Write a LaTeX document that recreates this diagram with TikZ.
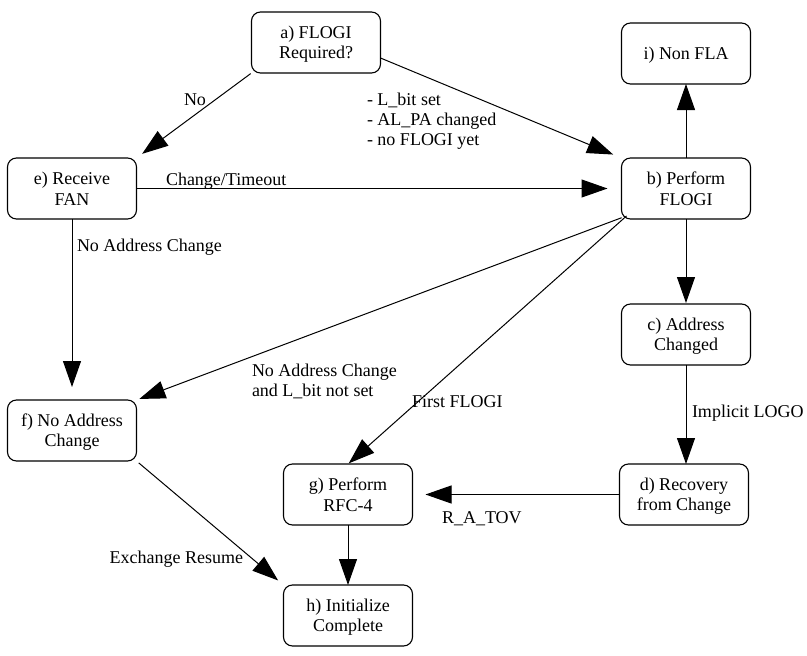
\documentclass[tikz,border=0pt]{standalone}
\usepackage{fontspec}
\setmainfont{Liberation Serif}
\usetikzlibrary{arrows.meta,calc}
\newcommand\sx{\rule[-3.5pt]{0pt}{19.5pt}}
\begin{document}
\begin{tikzpicture}[x=1pt,y=-1pt,
  state/.style={draw, line width=1.1pt, rounded corners=9pt, minimum width=129pt,
    minimum height=61pt, inner sep=0pt, outer sep=0pt, align=center,
    font=\fontsize{18}{20.5}\selectfont},
  lbl/.style={inner sep=0pt, outer sep=0pt, font=\fontsize{18}{20}\selectfont, align=left},
  arr/.style={draw, line width=1pt, -{Triangle[length=26pt,width=18pt]}}]
\useasboundingbox[fill=white] (0,0) rectangle (807,656);

\node[state] (a) at (316,42.5) {\sx a) FLOGI\\\sx Required?};
\node[state] (e) at (72,188.5) {\sx e) Receive\\\sx FAN};
\node[state] (i) at (686,53.5) {\sx i) Non FLA};
\node[state] (b) at (686,188.5) {\sx b) Perform\\\sx FLOGI};
\node[state] (c) at (686,334.5) {\sx c) Address\\\sx Changed};
\node[state] (d) at (684,494.5) {\sx d) Recovery\\\sx from Change};
\node[state] (f) at (72,430.5) {\sx f) No Address\\\sx Change};
\node[state] (g) at (348,494.5) {\sx g) Perform\\\sx RFC-4};
\node[state] (h) at (348,615.5) {\sx h) Initialize\\\sx Complete};

% connectors
\draw[arr, shorten <=1pt, shorten >=7pt] (a.south west) -- (e.north east);
\draw[arr, shorten >=9pt] ($(a.east)+(0,15.5)$) -- (b.north west);
\draw[arr, shorten >=14pt] (e.east) -- (b.west);
\draw[arr] (b.north) -- (i.south);
\draw[arr, shorten >=1pt] (b.south) -- (c.north);
\draw[arr, shorten >=13pt] (e.south) -- (f.north);
\draw[arr, shorten <=2pt, shorten >=3pt] ($(b.south west)+(2,-2)$) -- (f.north east);
\draw[arr, shorten >=1pt] ($(b.south west)+(5,-3)$) -- (g.north);
\draw[arr] (c.south) -- (c.south |- d.north);
\draw[arr, shorten >=13pt] (d.west) -- (g.east);
\draw[arr] (g.south) -- (h.north);
\draw[arr, shorten <=3pt, shorten >=7pt] (f.south east) -- (h.north west);

% labels
\node[lbl, anchor=base west] (lno) at (184,105) {No};
\node[lbl, anchor=north west] (lab) at (367,89) {\sx - L\_bit set\\\sx - AL\_PA changed\\\sx - no FLOGI yet};
\node[lbl, anchor=base west] (leb) at (166,185) {Change/Timeout};
\node[lbl, anchor=base west] (lef) at (77,251) {No Address Change};
\node[lbl, anchor=north west] (lbf) at (252,360) {\sx No Address Change\\\sx and L\_bit not set};
\node[lbl, anchor=base west] (lbg) at (412,407) {First FLOGI};
\node[lbl, anchor=base west] (lcd) at (692,417) {Implicit LOGO};
\node[lbl, anchor=base west] (ldg) at (442,523) {R\_A\_TOV};
\node[lbl, anchor=base east] (lfh) at (243,563) {Exchange Resume};
\end{tikzpicture}
\end{document}
